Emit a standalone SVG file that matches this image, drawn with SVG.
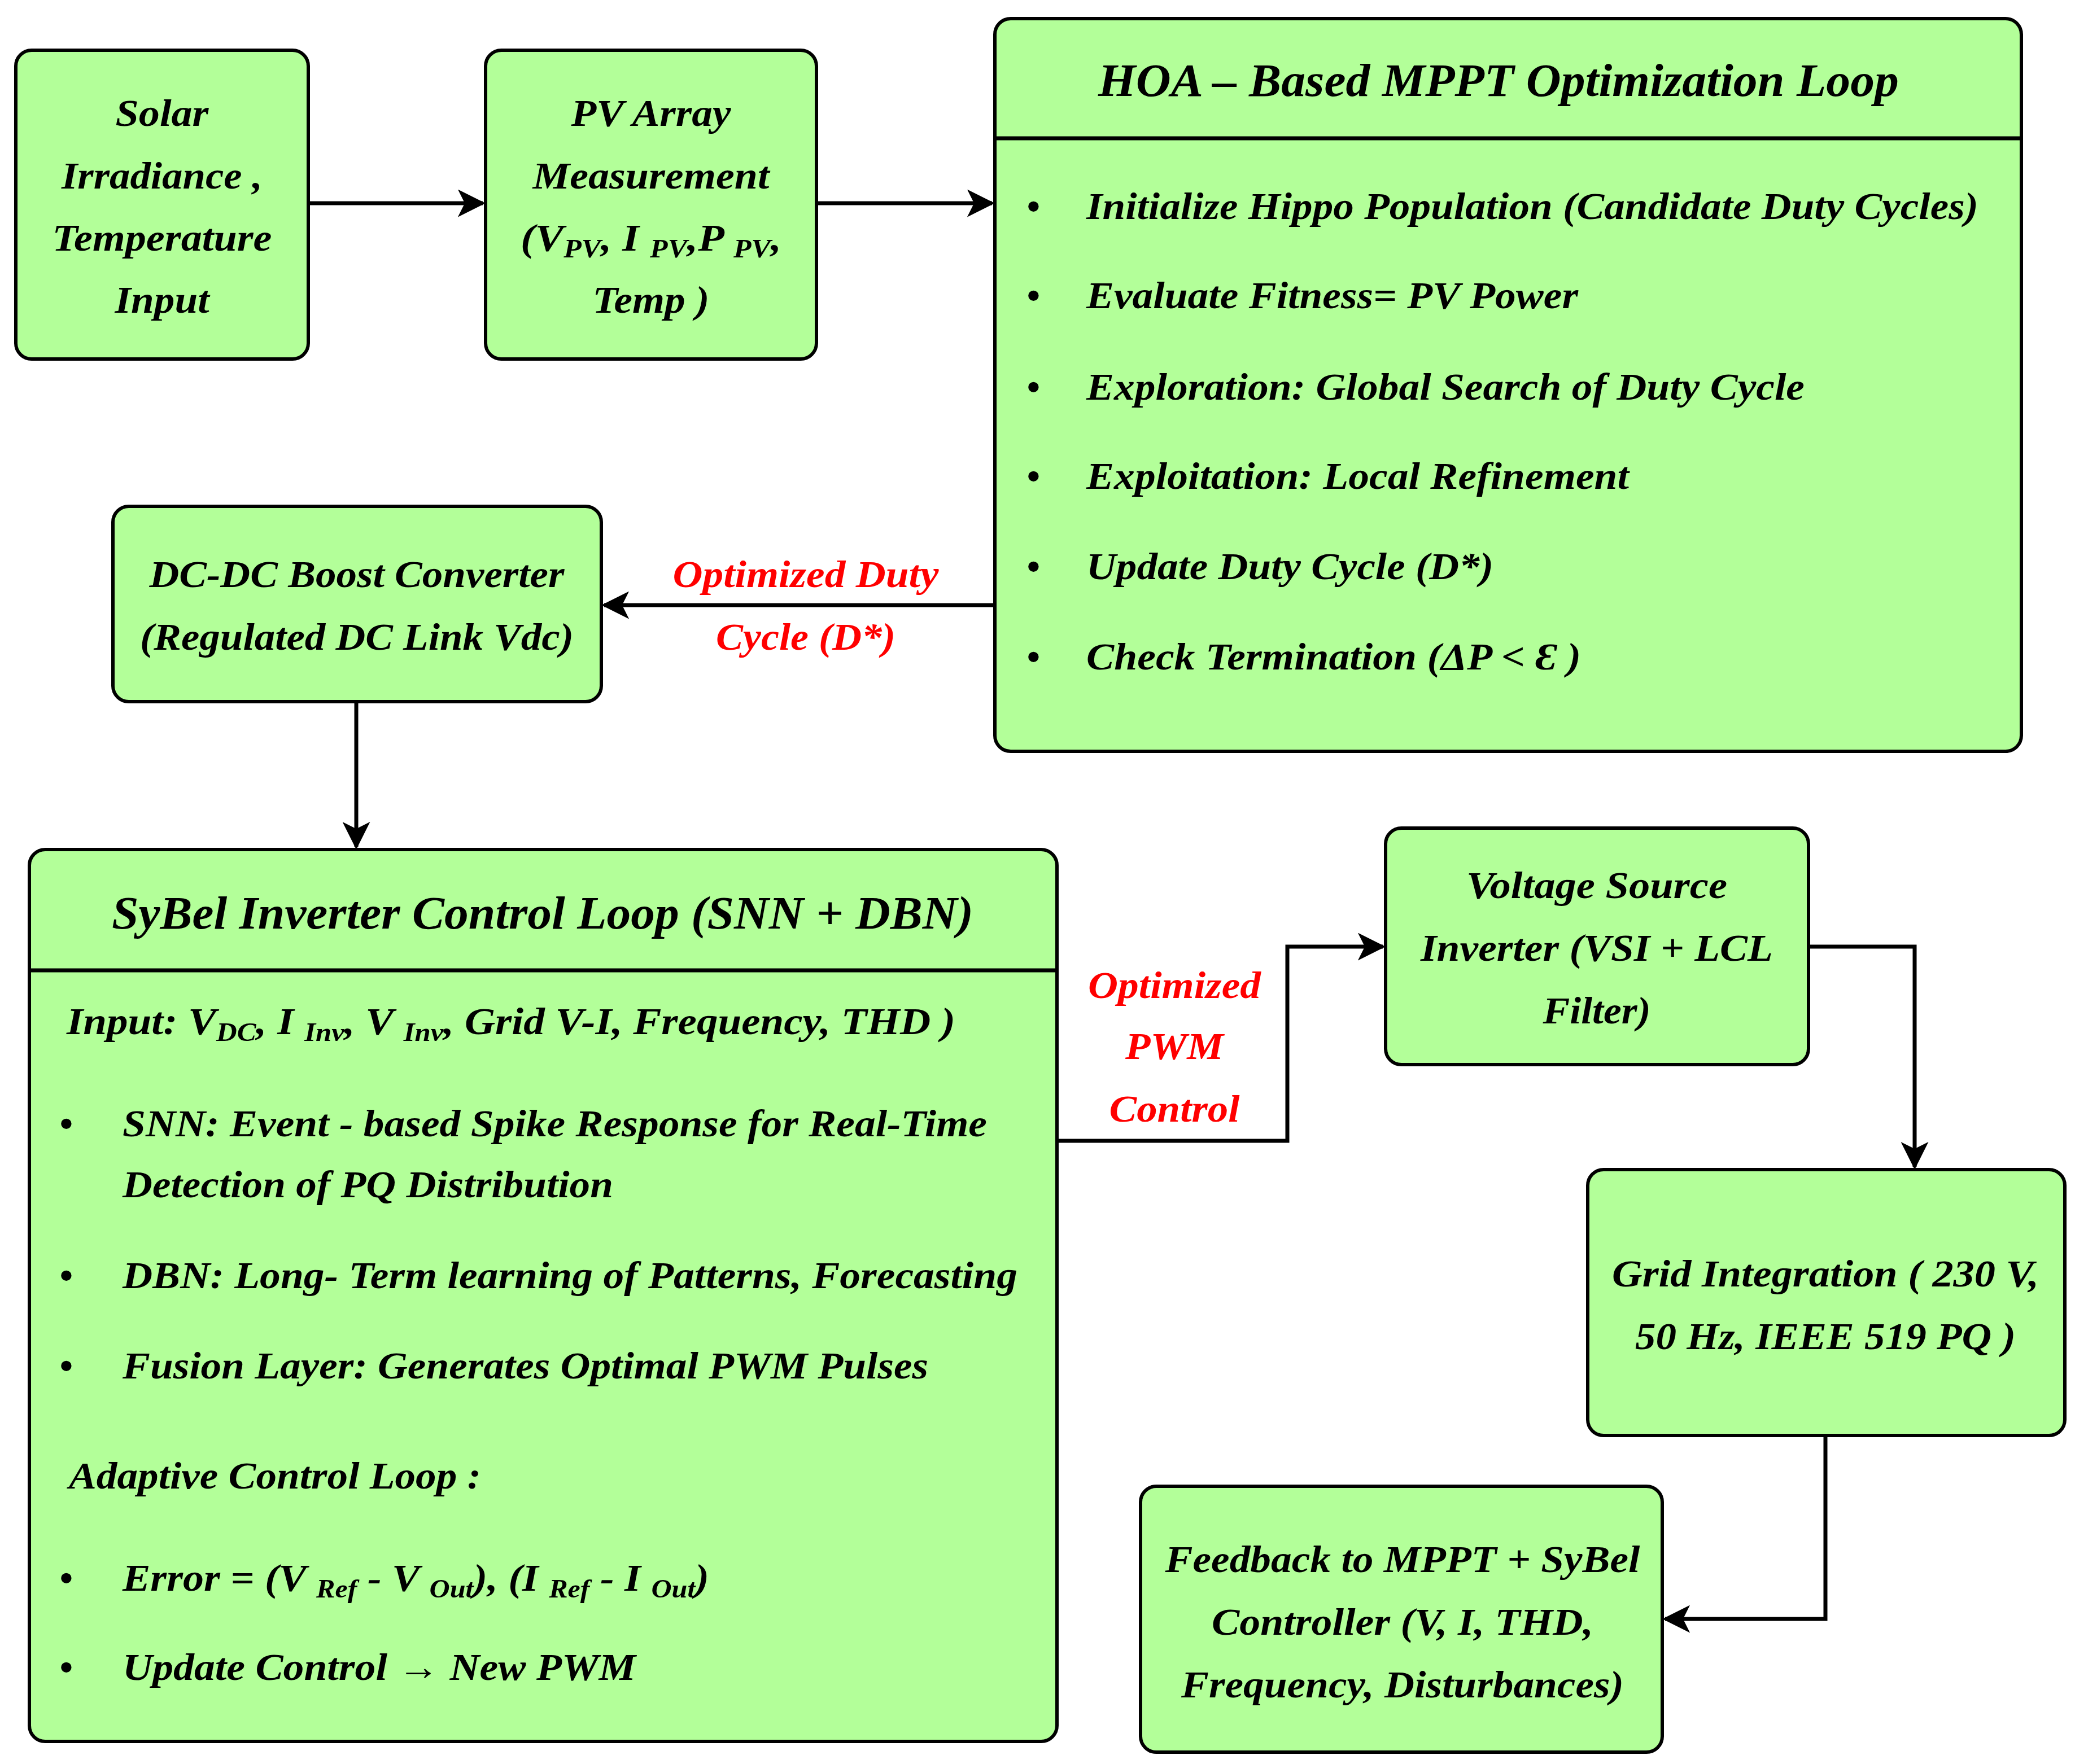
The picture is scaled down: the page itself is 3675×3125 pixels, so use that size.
<svg xmlns="http://www.w3.org/2000/svg" width="3675" height="3125" viewBox="0 0 3675 3125">
<style>
.b{fill:#b3ff99;stroke:#000;stroke-width:6}
.t{font-family:"Liberation Serif",serif;font-weight:bold;font-style:italic;font-size:68px;fill:#000}
.h{font-size:82px}
.r{fill:#ff0000}
.m{text-anchor:middle}
.c{fill:none;stroke:#000;stroke-width:7}
.s{font-size:46px}
</style>
<defs>
<marker id="a" viewBox="0 0 10 10" refX="9" refY="5" markerWidth="7" markerHeight="7" orient="auto" markerUnits="strokeWidth"><path d="M0,0L10,5L0,10L2.5,5z" fill="#000"/></marker>
</defs>
<rect width="3675" height="3125" fill="#fff"/>
<g id="connectors">
<path class="c" d="M546,360H855" marker-end="url(#a)"/>
<path class="c" d="M1446,360H1757" marker-end="url(#a)"/>
<path class="c" d="M1762,1072H1070" marker-end="url(#a)"/>
<path class="c" d="M631,1243V1500" marker-end="url(#a)"/>
<path class="c" d="M1872,2021H2280V1677H2449" marker-end="url(#a)"/>
<path class="c" d="M3203,1677H3391V2067" marker-end="url(#a)"/>
<path class="c" d="M3233,2543V2868H2949" marker-end="url(#a)"/>
<text class="t r m" x="1427" y="1040" textLength="471" lengthAdjust="spacingAndGlyphs">Optimized Duty</text>
<text class="t r m" x="1427" y="1151" textLength="318" lengthAdjust="spacingAndGlyphs">Cycle (D*)</text>
<text class="t r m" x="2080" y="1768" textLength="306" lengthAdjust="spacingAndGlyphs">Optimized</text>
<text class="t r m" x="2080" y="1876" textLength="174" lengthAdjust="spacingAndGlyphs">PWM</text>
<text class="t r m" x="2080" y="1987" textLength="231" lengthAdjust="spacingAndGlyphs">Control</text>
</g>
<g id="solar">
<rect class="b" x="28" y="89" width="518" height="547" rx="28"/>
<text class="t m" x="287" y="223" textLength="165" lengthAdjust="spacingAndGlyphs">Solar</text>
<text class="t m" x="287" y="334" textLength="356" lengthAdjust="spacingAndGlyphs">Irradiance ,</text>
<text class="t m" x="287" y="444" textLength="389" lengthAdjust="spacingAndGlyphs">Temperature</text>
<text class="t m" x="287" y="554" textLength="167" lengthAdjust="spacingAndGlyphs">Input</text>
</g>
<g id="pv">
<rect class="b" x="860" y="89" width="586" height="547" rx="28"/>
<text class="t m" x="1153" y="223" textLength="283" lengthAdjust="spacingAndGlyphs">PV Array</text>
<text class="t m" x="1153" y="334" textLength="419" lengthAdjust="spacingAndGlyphs">Measurement</text>
<text class="t m" x="1153" y="444" textLength="462" lengthAdjust="spacingAndGlyphs">(V<tspan class="s" dy="12">PV</tspan><tspan dy="-12">, I </tspan><tspan class="s" dy="12">PV</tspan><tspan dy="-12">,P </tspan><tspan class="s" dy="12">PV</tspan><tspan dy="-12">,</tspan></text>
<text class="t m" x="1153" y="554" textLength="207" lengthAdjust="spacingAndGlyphs">Temp )</text>
</g>
<g id="hoa">
<rect class="b" x="1762" y="33" width="1818" height="1298" rx="28"/>
<line class="c" x1="1762" y1="245" x2="3580" y2="245"/>
<text class="t h m" x="2654" y="170" textLength="1418" lengthAdjust="spacingAndGlyphs">HOA – Based MPPT Optimization Loop</text>
<g class="t">
<text x="1818" y="388">•</text><text x="1924" y="388" textLength="1580" lengthAdjust="spacingAndGlyphs">Initialize Hippo Population (Candidate Duty Cycles)</text>
<text x="1818" y="546">•</text><text x="1924" y="546" textLength="871" lengthAdjust="spacingAndGlyphs">Evaluate Fitness= PV Power</text>
<text x="1818" y="708">•</text><text x="1924" y="708" textLength="1272" lengthAdjust="spacingAndGlyphs">Exploration: Global Search of Duty Cycle</text>
<text x="1818" y="866">•</text><text x="1924" y="866" textLength="961" lengthAdjust="spacingAndGlyphs">Exploitation: Local Refinement</text>
<text x="1818" y="1026">•</text><text x="1924" y="1026" textLength="721" lengthAdjust="spacingAndGlyphs">Update Duty Cycle (D*)</text>
<text x="1818" y="1186">•</text><text x="1924" y="1186" textLength="876" lengthAdjust="spacingAndGlyphs">Check Termination (ΔP &lt; Ɛ )</text>
</g>
</g>
<g id="dcdc">
<rect class="b" x="200" y="897" width="865" height="346" rx="28"/>
<text class="t m" x="632" y="1040" textLength="735" lengthAdjust="spacingAndGlyphs">DC-DC Boost Converter</text>
<text class="t m" x="632" y="1151" textLength="768" lengthAdjust="spacingAndGlyphs">(Regulated DC Link Vdc)</text>
</g>
<g id="sybel">
<rect class="b" x="52" y="1505" width="1820" height="1580" rx="28"/>
<line class="c" x1="52" y1="1719" x2="1872" y2="1719"/>
<text class="t h m" x="961" y="1645" textLength="1526" lengthAdjust="spacingAndGlyphs">SyBel Inverter Control Loop (SNN + DBN)</text>
<g class="t">
<text x="118" y="1832" textLength="1574" lengthAdjust="spacingAndGlyphs">Input: V<tspan class="s" dy="12">DC</tspan><tspan dy="-12">, I </tspan><tspan class="s" dy="12">Inv</tspan><tspan dy="-12">, V </tspan><tspan class="s" dy="12">Inv</tspan><tspan dy="-12">, Grid V-I, Frequency, THD )</tspan></text>
<text x="105" y="2013">•</text><text x="217" y="2013" textLength="1531" lengthAdjust="spacingAndGlyphs">SNN: Event - based Spike Response for Real-Time</text>
<text x="217" y="2121" textLength="869" lengthAdjust="spacingAndGlyphs">Detection of PQ Distribution</text>
<text x="105" y="2282">•</text><text x="217" y="2282" textLength="1585" lengthAdjust="spacingAndGlyphs">DBN: Long- Term learning of Patterns, Forecasting</text>
<text x="105" y="2442">•</text><text x="217" y="2442" textLength="1427" lengthAdjust="spacingAndGlyphs">Fusion Layer: Generates Optimal PWM Pulses</text>
<text x="122" y="2637" textLength="730" lengthAdjust="spacingAndGlyphs">Adaptive Control Loop :</text>
<text x="105" y="2818">•</text><text x="217" y="2818" textLength="1039" lengthAdjust="spacingAndGlyphs">Error = (V <tspan class="s" dy="12">Ref</tspan><tspan dy="-12"> - V </tspan><tspan class="s" dy="12">Out</tspan><tspan dy="-12">), (I </tspan><tspan class="s" dy="12">Ref</tspan><tspan dy="-12"> - I </tspan><tspan class="s" dy="12">Out</tspan><tspan dy="-12">)</tspan></text>
<text x="105" y="2976">•</text><text x="217" y="2976" textLength="909" lengthAdjust="spacingAndGlyphs">Update Control → New PWM</text>
</g>
</g>
<g id="vsi">
<rect class="b" x="2454" y="1467" width="749" height="419" rx="28"/>
<text class="t m" x="2828" y="1591" textLength="462" lengthAdjust="spacingAndGlyphs">Voltage Source</text>
<text class="t m" x="2828" y="1702" textLength="624" lengthAdjust="spacingAndGlyphs">Inverter (VSI + LCL</text>
<text class="t m" x="2828" y="1813" textLength="191" lengthAdjust="spacingAndGlyphs">Filter)</text>
</g>
<g id="grid">
<rect class="b" x="2812" y="2072" width="845" height="471" rx="28"/>
<text class="t m" x="3233" y="2279" textLength="756" lengthAdjust="spacingAndGlyphs">Grid Integration ( 230 V,</text>
<text class="t m" x="3233" y="2390" textLength="674" lengthAdjust="spacingAndGlyphs">50 Hz, IEEE 519 PQ )</text>
</g>
<g id="feedback">
<rect class="b" x="2020" y="2633" width="924" height="471" rx="28"/>
<text class="t m" x="2484" y="2785" textLength="841" lengthAdjust="spacingAndGlyphs">Feedback to MPPT + SyBel</text>
<text class="t m" x="2484" y="2896" textLength="676" lengthAdjust="spacingAndGlyphs">Controller (V, I, THD,</text>
<text class="t m" x="2484" y="3007" textLength="784" lengthAdjust="spacingAndGlyphs">Frequency, Disturbances)</text>
</g>
</svg>
